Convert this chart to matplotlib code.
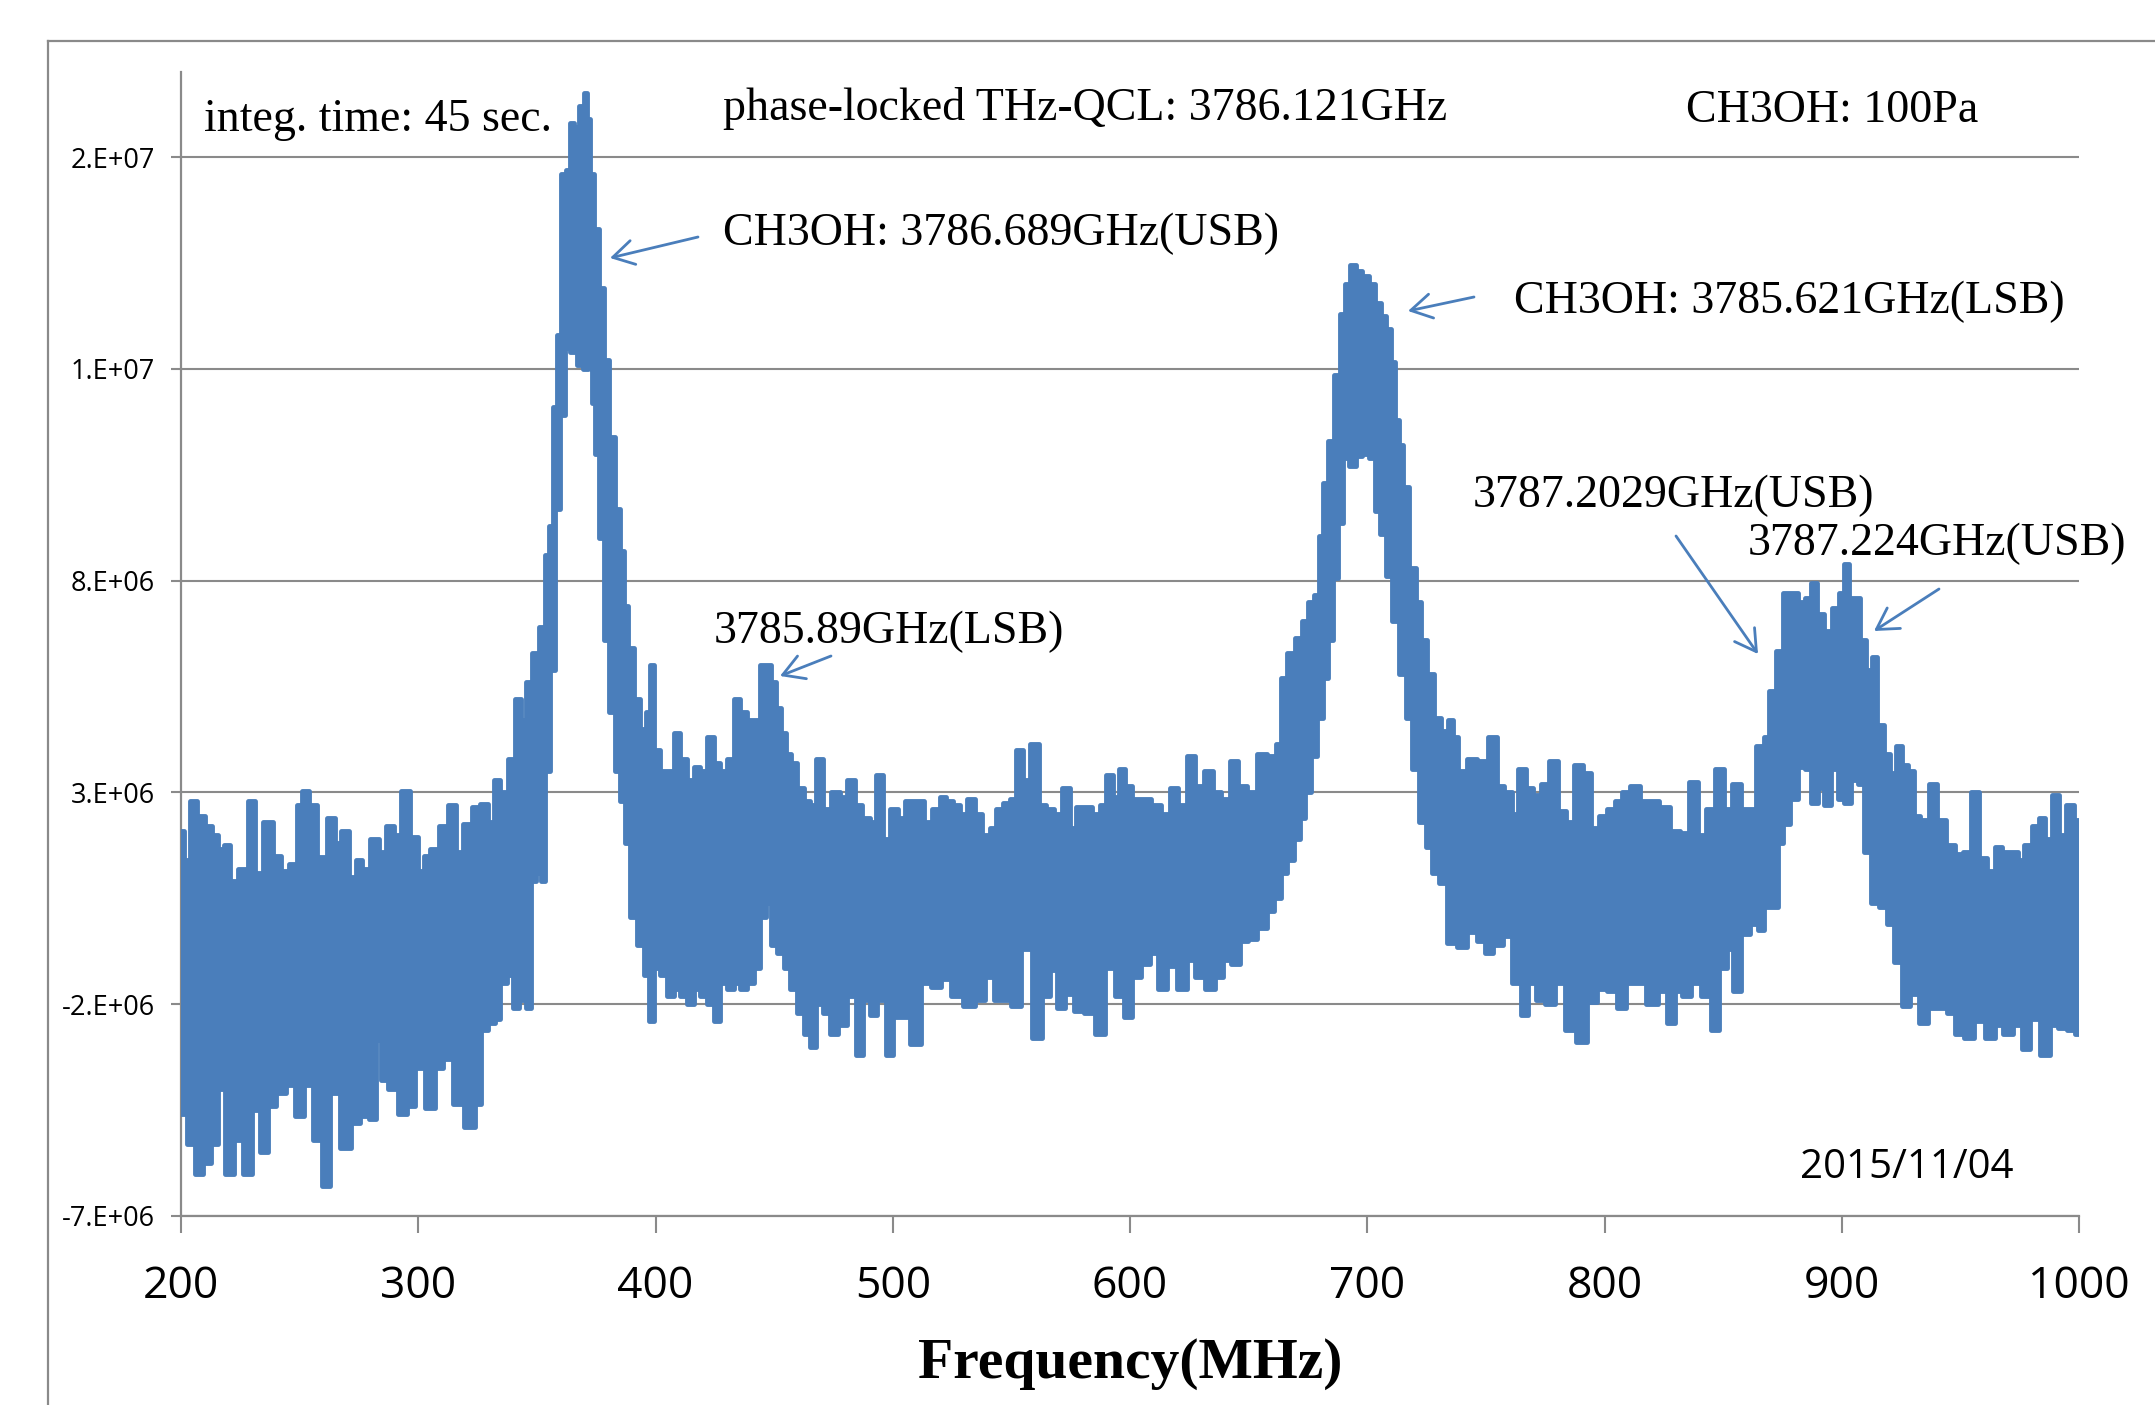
import numpy as np
import matplotlib
matplotlib.use("Agg")
import matplotlib.pyplot as plt
from matplotlib.lines import Line2D
from matplotlib.patches import FancyArrowPatch

# ---------------- data (intensity in units of 1e6) ----------------
upper_freq = [
    200.0, 202.8, 204.9, 208.4, 211.9, 214.0, 216.9, 219.7, 221.8, 226.0, 230.2, 232.3, 236.8,
    240.7, 243.5, 247.8, 249.9, 252.2, 255.9, 259.0, 263.9, 266.0, 269.2, 272.3, 275.1, 277.9,
    281.5, 285.0, 288.2, 291.3, 294.4, 298.3, 301.1, 303.5, 306.7, 311.0, 314.5, 317.3, 320.8,
    324.3, 327.8, 331.3, 332.7,
    336.0, 339.5, 342.3, 344.4, 346.5, 349.4, 352.2, 354.3, 355.7, 357.8, 359.2, 361.3, 363.4,
    364.8, 366.9, 369.0, 370.4, 371.8, 373.2, 375.3, 377.4, 379.5, 381.7, 383.8, 385.9, 387.3,
    389.4, 392.2, 395.0, 397.1, 398.5, 400.6, 403.4, 406.2, 409.0, 411.9, 414.7, 417.5, 420.3,
    423.1, 425.9, 428.7, 431.5, 434.3, 437.1, 440.0, 442.8, 445.6, 447.7, 449.8, 451.9, 454.0,
    456.1, 458.2, 461.0, 463.8,
    466.4, 469.2, 472.0, 476.2, 479.0, 482.6, 485.4, 488.9, 491.7, 494.5, 497.3, 500.8, 503.6,
    507.1, 511.3, 514.9, 518.4, 521.2, 524.0, 526.8, 529.6, 533.1, 535.9, 539.4, 542.2, 545.1,
    547.9, 550.7, 553.5, 556.3, 559.8, 563.3, 566.1, 569.6, 573.1, 576.0, 578.8, 582.3, 585.8,
    588.6, 591.4, 594.2, 596.3,
    599.6, 602.4, 606.6, 610.8, 615.0, 618.6, 622.1, 625.6, 629.1, 633.3, 636.8, 640.3, 643.8,
    647.4, 651.6, 655.8, 660.0, 662.8, 664.9, 667.7, 671.2, 674.0, 676.1, 679.0, 680.4, 682.5,
    684.6, 687.4, 689.5, 691.6, 693.7, 696.5, 699.3, 702.1, 704.2, 707.0, 709.2, 710.6, 712.7,
    714.1, 716.2, 719.0, 721.8, 723.9, 726.7, 729.5,
    732.8, 734.9, 737.0, 739.8, 744.0, 748.3, 753.2, 756.0, 759.5, 762.3, 765.1, 768.6, 771.4,
    774.9, 778.4, 782.0, 785.5, 789.0, 792.5, 796.0, 799.5, 803.0, 805.8, 808.6, 812.9, 817.1,
    820.6, 825.5, 829.7, 833.9, 837.4, 841.0, 844.5, 848.7, 852.2, 855.7, 859.2, 862.0,
    866.0, 868.1, 870.9, 873.7, 876.5, 880.0, 882.9, 885.7, 888.5, 890.6, 894.1, 897.6, 899.7,
    902.1, 903.9, 906.7, 908.8, 911.6, 913.8, 915.9, 919.4, 921.5, 924.3, 926.4, 929.2, 931.3,
    934.8, 938.6, 941.8, 946.1, 949.6, 952.4, 956.2, 959.4, 962.9, 966.0, 969.2, 972.7, 975.6,
    978.4, 981.9, 984.7, 986.8, 990.3, 993.1, 995.9, 1000.0,
]
upper_val = [
    2.1, 1.4, 2.8, 2.45, 2.2, 2.0, 1.67, 1.75, 0.9, 1.2, 2.8, 1.1, 2.3,
    1.5, 1.15, 1.3, 2.7, 3.04, 2.7, 1.47, 2.4, 1.8, 2.1, 1.0, 1.4, 1.2,
    1.9, 1.6, 2.2, 2.0, 3.04, 1.94, 1.15, 1.5, 1.66, 2.2, 2.7, 1.6, 2.25,
    2.65, 2.72, 2.3, 3.3,
    3.0, 3.8, 5.2, 4.7, 5.6, 6.3, 6.9, 8.6, 9.3, 12.1, 13.8, 17.6, 17.7,
    18.8, 18.7, 19.2, 19.5, 18.9, 17.6, 16.3, 14.9, 13.2, 11.4, 9.7, 8.7, 7.4,
    6.4, 5.2, 4.5, 4.9, 6.0, 4.0, 3.5, 3.5, 4.4, 3.8, 3.3, 3.6, 3.5,
    4.3, 3.7, 3.5, 3.8, 5.2, 4.9, 4.7, 4.7, 6.0, 6.0, 5.6, 5.0, 4.4,
    3.9, 3.7, 3.1, 2.8,
    2.7, 3.8, 2.6, 3.0, 2.9, 3.3, 2.7, 2.4, 2.3, 3.4, 1.9, 2.6, 2.4,
    2.8, 2.8, 2.3, 2.6, 2.9, 2.8, 2.7, 2.5, 2.85, 2.5, 2.0, 2.15, 2.6,
    2.75, 2.85, 4.0, 3.3, 4.15, 2.7, 2.6, 2.5, 3.1, 2.15, 2.65, 2.65, 2.5,
    2.7, 3.4, 2.9, 3.55,
    3.15, 2.85, 2.85, 2.7, 2.5, 3.1, 2.7, 3.85, 3.15, 3.5, 3.0, 2.85, 3.75,
    3.15, 3.0, 3.9, 3.85, 4.15, 5.7, 6.3, 6.65, 7.05, 7.5, 7.65, 9.05, 10.3,
    11.3, 12.85, 14.3, 15.0, 15.45, 15.3, 15.2, 15.0, 14.55, 14.25, 13.95, 13.15, 11.8,
    11.2, 10.2, 8.3, 7.5, 6.6, 5.8, 4.75,
    4.45, 4.7, 4.3, 3.5, 3.8, 3.75, 4.3, 3.15, 3.0, 2.5, 3.55, 3.1, 2.95,
    3.2, 3.75, 2.55, 2.3, 3.65, 3.45, 2.15, 2.45, 2.6, 2.8, 3.0, 3.15, 2.8,
    2.8, 2.65, 2.1, 2.05, 3.25, 2.0, 2.6, 3.55, 2.6, 3.2, 2.6, 2.6,
    4.1, 4.3, 5.4, 6.35, 7.7, 7.7, 7.5, 7.6, 7.95, 7.2, 6.8, 7.35, 7.7,
    8.4, 7.6, 7.6, 6.6, 5.9, 6.2, 4.6, 3.9, 3.45, 4.1, 3.65, 3.5, 2.45,
    2.35, 3.2, 2.35, 1.75, 1.55, 1.6, 3.0, 1.45, 1.15, 1.7, 1.6, 1.6, 1.4,
    1.75, 2.2, 2.4, 1.9, 2.95, 2.0, 2.7, 2.35,
]
lower_freq = [
    200.0, 204.9, 207.0, 211.2, 214.0, 216.9, 220.4, 223.9, 228.1, 231.6, 235.1, 237.9, 242.1,
    246.3, 249.9, 253.4, 257.6, 261.1, 264.6, 269.5, 273.7, 277.2, 281.2, 283.6, 285.0, 289.9,
    293.4, 296.9, 300.4, 305.3, 308.8, 312.4, 316.6, 322.2, 325.7, 327.1, 331.3,
    333.2, 336.0, 338.8, 340.9, 344.4, 346.5, 348.6, 350.8, 352.9, 354.3, 356.4, 358.5, 360.6,
    362.7, 365.5, 368.3, 370.4, 372.5, 373.9, 375.3, 377.4, 379.5, 381.7, 383.8, 385.9, 388.0,
    390.8, 393.6, 396.4, 398.5, 400.6, 403.4, 406.2, 409.0, 411.9, 414.7, 417.5, 420.3, 423.1,
    425.9, 428.7, 431.5, 434.3, 437.1, 440.0, 442.8, 445.6, 447.7, 449.8, 452.6, 455.4, 458.2,
    461.0, 463.8,
    466.4, 469.2, 472.0, 474.8, 479.0, 482.6, 486.1, 488.9, 491.7, 495.2, 498.7, 501.5, 505.0,
    509.9, 514.2, 518.4, 522.6, 526.8, 532.4, 536.6, 540.8, 544.4, 547.9, 552.1, 556.3, 561.2,
    564.7, 567.5, 571.0, 574.5, 578.1, 583.0, 587.9, 591.4, 595.6,
    599.6, 602.4, 606.6, 610.1, 613.6, 617.9, 622.1, 625.6, 629.1, 634.0, 637.5, 641.0, 644.5,
    648.1, 651.6, 655.8, 659.3, 662.1, 664.9, 667.7, 670.5, 672.6, 674.7, 677.5, 680.4, 682.5,
    684.6, 686.7, 688.8, 690.9, 693.7, 696.5, 699.3, 702.1, 704.2, 706.3, 709.2, 712.0, 714.8,
    717.6, 720.4, 723.2, 726.0, 728.8, 731.6,
    735.6, 739.8, 744.0, 748.3, 751.1, 755.3, 758.8, 763.0, 766.5, 769.3, 772.8, 777.0, 781.3,
    785.5, 790.4, 794.6, 798.8, 803.0, 807.2, 810.8, 814.3, 820.6, 824.1, 828.3, 831.1, 834.6,
    838.1, 843.1, 846.6, 850.1, 852.9, 855.7, 859.2, 863.4,
    866.0, 868.8, 872.3, 873.7, 876.5, 880.0, 882.9, 885.7, 888.5, 891.3, 894.1, 896.9, 899.7,
    902.5, 905.3, 908.1, 910.9, 913.8, 917.3, 920.8, 923.6, 927.1, 930.6, 934.8, 938.3, 942.5,
    946.1, 949.6, 953.8, 958.0, 962.9, 966.4, 969.9, 974.1, 977.7, 981.2, 986.1, 989.6, 993.1,
    996.6, 1000.0,
]
lower_val = [
    -4.6, -5.3, -6.0, -5.75, -5.3, -4.0, -6.0, -5.2, -6.0, -4.5, -5.5, -4.4, -4.1,
    -3.9, -4.65, -3.9, -5.2, -6.3, -4.1, -5.4, -4.8, -4.65, -4.7, -2.85, -3.8, -4.0,
    -4.6, -4.4, -3.5, -4.45, -3.5, -3.3, -4.35, -4.9, -4.35, -2.6, -2.45,
    -2.35, -1.5, -1.3, -2.1, -1.9, -2.1, 0.9, 1.1, 0.9, 3.5, 5.9, 9.7, 11.9,
    13.5, 13.4, 13.1, 13.0, 13.1, 12.2, 11.0, 9.0, 6.6, 4.9, 3.5, 2.8, 1.8,
    0.06, -0.6, -1.3, -2.4, -1.15, -1.3, -1.8, -1.65, -1.8, -2.0, -1.65, -1.8, -2.0,
    -2.4, -1.5, -1.65, -1.5, -1.65, -1.5, -1.15, 0.06, 0.4, -0.6, -0.8, -1.15, -1.65,
    -2.2, -2.7,
    -3.0, -2.0, -2.2, -2.7, -2.5, -1.8, -3.2, -1.9, -2.25, -1.9, -3.2, -2.3, -2.3,
    -2.95, -1.5, -1.6, -1.4, -1.8, -2.05, -1.9, -1.35, -1.9, -1.9, -2.05, -0.7, -2.8,
    -1.8, -1.2, -2.1, -1.75, -2.15, -2.2, -2.7, -1.15, -1.8,
    -2.3, -1.35, -1.05, -0.8, -1.65, -1.1, -1.65, -0.95, -1.35, -1.65, -1.35, -0.95, -1.05,
    -0.5, -0.45, -0.2, 0.2, 0.5, 1.1, 1.4, 1.9, 2.4, 3.0, 3.85, 4.75, 5.7,
    6.6, 8.05, 9.35, 10.9, 10.7, 10.95, 11.0, 10.9, 9.65, 9.1, 8.1, 7.05, 5.8,
    4.75, 3.55, 2.3, 1.7, 1.1, 0.85,
    -0.55, -0.65, -0.3, -0.5, -0.8, -0.6, -0.4, -1.5, -2.25, -1.5, -1.9, -2.0, -1.5,
    -2.6, -2.9, -1.95, -1.65, -1.7, -2.1, -1.5, -1.5, -2.0, -1.7, -2.45, -1.7, -1.8,
    -1.5, -1.8, -2.6, -1.15, -0.7, -1.7, -0.35, -0.1,
    -0.25, 0.3, 0.3, 1.8, 2.25, 2.85, 3.6, 3.55, 2.75, 3.1, 2.7, 3.55, 2.85,
    2.75, 3.3, 3.2, 1.6, 0.4, 0.3, -0.1, -1.0, -2.05, -1.75, -2.45, -2.1, -2.1,
    -2.2, -2.7, -2.8, -2.4, -2.8, -2.5, -2.7, -2.5, -3.05, -2.35, -3.2, -2.5, -2.55,
    -2.6, -2.7,
]

x_ticks = [200, 300, 400, 500, 600, 700, 800, 900, 1000]
y_ticks = [-7e6, -2e6, 3e6, 8e6, 1.3e7, 1.8e7]
y_tick_labels = ["-7.E+06", "-2.E+06", "3.E+06", "8.E+06", "1.E+07", "2.E+07"]

# ---------------- styling ----------------
W, H = 2155, 1405
BLUE = "#4A7EBB"
GRAY = "#8A8A8A"
SERIF = ["Liberation Serif", "DejaVu Serif"]
SANS = ["Open Sans", "DejaVu Sans"]

fig = plt.figure(figsize=(W / 100, H / 100), dpi=100)
fig.patch.set_facecolor("white")
ax = fig.add_axes([181 / W, 189 / H, 1898 / W, 1143.7 / H])


def steps_mid(x, y):
    x = np.asarray(x, float)
    y = np.asarray(y, float)
    mids = (x[:-1] + x[1:]) / 2
    xs = np.concatenate([[x[0]], np.repeat(mids, 2), [x[-1]]])
    ys = np.repeat(y, 2)
    return xs, ys


xu, yu = steps_mid(upper_freq, upper_val)
xl, yl = steps_mid(lower_freq, lower_val)
poly_x = np.concatenate([xu, xl[::-1]])
poly_y = np.concatenate([yu, yl[::-1]]) * 1e6
ax.fill(poly_x, poly_y, color=BLUE, lw=0, zorder=3)
ax.plot(xu, yu * 1e6, color=BLUE, lw=3.5, solid_joinstyle="round", solid_capstyle="round", zorder=3)
ax.plot(xl, yl * 1e6, color=BLUE, lw=3.5, solid_joinstyle="round", solid_capstyle="round", zorder=3)

ax.set_xlim(200, 1000)
ax.set_ylim(-7e6, 2.0e7)
ax.set_xticks(x_ticks)
ax.set_xticklabels([str(t) for t in x_ticks])
ax.set_yticks(y_ticks)
ax.set_yticklabels(y_tick_labels)
for lbl in ax.get_xticklabels():
    lbl.set_fontfamily(SANS)
    lbl.set_fontsize(32)
for lbl in ax.get_yticklabels():
    lbl.set_fontfamily(SANS)
    lbl.set_fontsize(19.5)

ax.tick_params(axis="x", length=12, width=1.5, color=GRAY, direction="out", pad=23)
ax.tick_params(axis="y", length=7, width=1.5, color=GRAY, direction="out", pad=12)
for s in ["top", "right"]:
    ax.spines[s].set_visible(False)
for s in ["left", "bottom"]:
    ax.spines[s].set_color(GRAY)
    ax.spines[s].set_linewidth(1.6)
ax.grid(axis="y", color=GRAY, lw=1.5)
ax.set_axisbelow(True)

# outer chart frame (cut off by the picture's right and bottom edges)
fig.add_artist(Line2D([48 / W, 1.0], [1 - 41 / H, 1 - 41 / H], transform=fig.transFigure, color=GRAY, lw=1.6))
fig.add_artist(Line2D([48 / W, 48 / W], [1 - 41 / H, 0.0], transform=fig.transFigure, color=GRAY, lw=1.6))


def ftext(x, y, s, **kw):
    fig.text(x / W, 1 - y / H, s, va="baseline", **kw)


ftext(204, 131, "integ. time: 45 sec.", family=SERIF, size=33)
ftext(723, 120, "phase-locked THz-QCL: 3786.121GHz", family=SERIF, size=33)
ftext(1686, 122, "CH3OH: 100Pa", family=SERIF, size=33)
ftext(723, 245, "CH3OH: 3786.689GHz(USB)", family=SERIF, size=33)
ftext(1514, 313, "CH3OH: 3785.621GHz(LSB)", family=SERIF, size=33)
ftext(1473, 507, "3787.2029GHz(USB)", family=SERIF, size=33)
ftext(1748, 555, "3787.224GHz(USB)", family=SERIF, size=33)
ftext(714, 643, "3785.89GHz(LSB)", family=SERIF, size=33)
ftext(1800, 1178, "2015/11/04", family=SANS, size=29)
ftext(1130, 1378, "Frequency(MHz)", family=SERIF, size=41.5, weight="bold", ha="center")

arrows = [
    ((698, 237), (610, 258)),
    ((1474, 297), (1408, 311)),
    ((831, 656), (780, 676)),
    ((1676, 536), (1758, 654)),
    ((1939, 589), (1874, 631)),
]
for (x0, y0), (x1, y1) in arrows:
    fig.add_artist(FancyArrowPatch(
        (x0 / W, 1 - y0 / H), (x1 / W, 1 - y1 / H), transform=fig.transFigure,
        arrowstyle="->,head_length=0.6,head_width=0.35", mutation_scale=25,
        color=BLUE, lw=2.0, shrinkA=0, shrinkB=0))

fig.savefig("out.png", dpi=100)
